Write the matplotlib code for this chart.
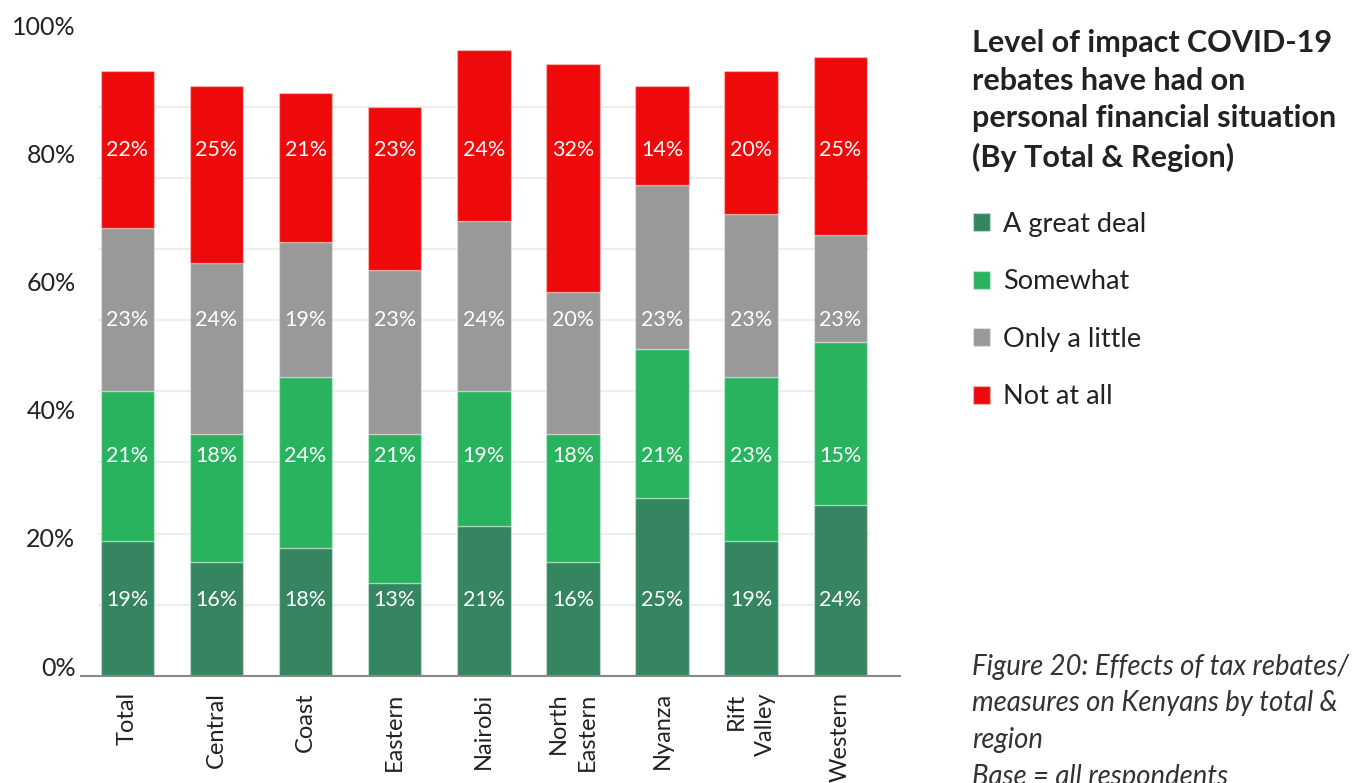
import matplotlib
matplotlib.use("Agg")
import matplotlib.pyplot as plt
import numpy as np

plt.rcParams['font.family'] = ['Lato', 'DejaVu Sans']

# ---- data ----
regions = ["Total", "Central", "Coast", "Eastern", "Nairobi", "North\nEastern",
           "Nyanza", "Rift\nValley", "Western"]
series_names = ["A great deal", "Somewhat", "Only a little", "Not at all"]
# segment heights as drawn
great_deal = [19, 16, 18, 13, 21, 16, 25, 19, 24]
somewhat = [21, 18, 24, 21, 19, 18, 21, 23, 23]
only_little = [23, 24, 19, 23, 24, 20, 23, 23, 15]
not_at_all = [22, 25, 21, 23, 24, 32, 14, 20, 25]
# printed labels per row (as they appear in the chart)
great_deal_lbl = ["19%", "16%", "18%", "13%", "21%", "16%", "25%", "19%", "24%"]
somewhat_lbl = ["21%", "18%", "24%", "21%", "19%", "18%", "21%", "23%", "15%"]
only_little_lbl = ["23%", "24%", "19%", "23%", "24%", "20%", "23%", "23%", "23%"]
not_at_all_lbl = ["22%", "25%", "21%", "23%", "24%", "32%", "14%", "20%", "25%"]
ytick_labels = ["0%", "20%", "40%", "60%", "80%", "100%"]

title = "Level of impact COVID-19\nrebates have had on\npersonal financial situation\n(By Total & Region)"
caption = ("Figure 20: Effects of tax rebates/\nmeasures on Kenyans by total &\n"
           "region\nBase = all respondents")

colors = ["#358660", "#2ab35e", "#999999", "#ee0a0a"]

# ---- figure ----
W, H = 1362, 783
fig = plt.figure(figsize=(W / 100, H / 100), dpi=100)
ax_bottom_px = 675.7
ax_top_px = 18.0
px_per_unit = 7.11
ax = fig.add_axes([81 / W, (H - ax_bottom_px) / H, (900 - 81) / W,
                   (ax_bottom_px - ax_top_px) / H])
ymax = (ax_bottom_px - ax_top_px) / px_per_unit
ax.set_ylim(0, ymax)
ax.set_xlim(-0.52, 8.67)

x = np.arange(len(regions))
series = [great_deal, somewhat, only_little, not_at_all]
labels = [great_deal_lbl, somewhat_lbl, only_little_lbl, not_at_all_lbl]
bottom = np.zeros(len(regions))
handles = []
label_rows = [10.6, 30.9, 50.0, 73.9]
for vals, lbls, col, name, ly in zip(series, labels, colors, series_names, label_rows):
    vals = np.array(vals, dtype=float)
    b = ax.bar(x, vals, bottom=bottom, width=0.6, color=col,
               edgecolor=(1, 1, 1, 0.35), linewidth=1.0, label=name, zorder=2)
    handles.append(b)
    for xi, t in zip(x, lbls):
        ax.text(xi, ly, t, ha="center", va="center",
                color="white", fontsize=15.5, zorder=3)
    bottom += vals

# gridlines
ax.hlines(np.arange(10, 90, 10), -0.33, 8.335, color="#eeeeee", lw=1.6, zorder=0)

# y ticks (label positions as in reference)
ypos = [1.36 + 0.9005 * k for k in range(0, 101, 20)]
ax.set_yticks(ypos)
ax.set_yticklabels(ytick_labels, fontsize=18, color="#222222")
ax.tick_params(axis="y", length=0, pad=4)

ax.set_xticks(x)
ax.set_xticklabels(regions, rotation=90, fontsize=17, color="#222222",
                   va="top", ha="center", multialignment="right", linespacing=1.45)
ax.tick_params(axis="x", length=0, pad=12)

for s in ["top", "right", "left"]:
    ax.spines[s].set_visible(False)
ax.spines["bottom"].set_color("#888888")
ax.spines["bottom"].set_linewidth(1.5)
ax.spines["bottom"].set_zorder(4)

# title & legend
fig.text(972 / W, 1 - 29 / H, title, fontsize=22, fontweight="bold",
         color="#222222", va="top", ha="left", linespacing=1.42)

leg = fig.legend(handles=handles, labels=series_names, loc="upper left",
                 bbox_to_anchor=(962 / W, 1 - 201 / H), frameon=False,
                 fontsize=19.5, handlelength=0.63, handleheight=0.63,
                 handletextpad=0.5, labelspacing=1.2, borderaxespad=0)
for t in leg.get_texts():
    t.set_color("#222222")

fig.text(972 / W, 1 - 654 / H, caption, fontsize=19.8, style="italic",
         color="#333333", va="top", ha="left", linespacing=1.5)

fig.savefig("out.png", dpi=100)
